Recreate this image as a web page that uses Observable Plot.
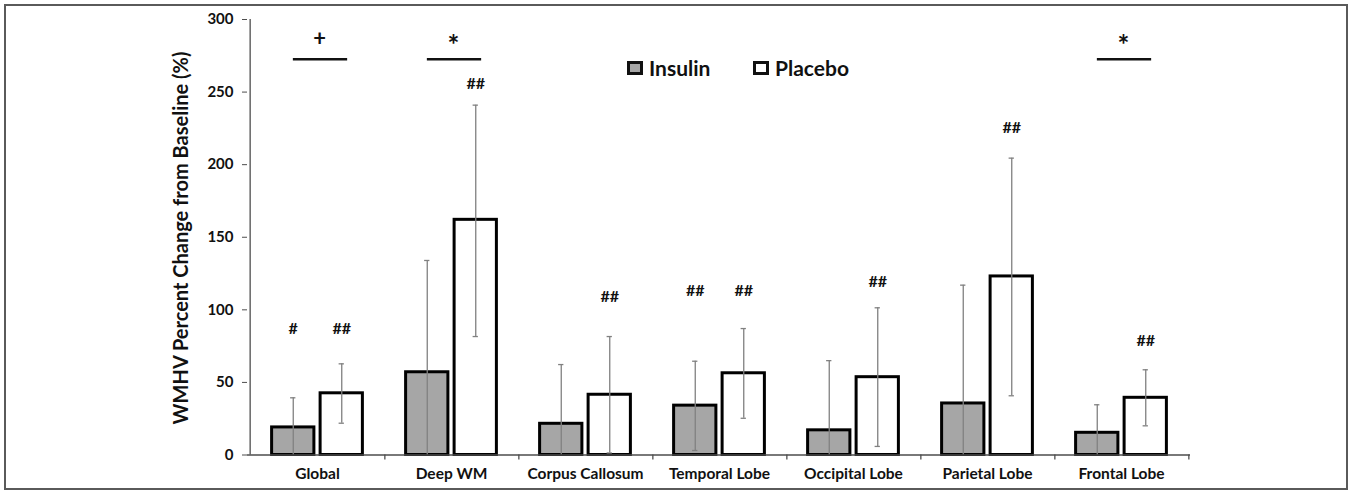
<!DOCTYPE html>
<html><head><meta charset="utf-8">
<script src="https://cdn.jsdelivr.net/npm/d3@7"></script>
<script src="https://cdn.jsdelivr.net/npm/@observablehq/plot@0.6"></script>
<style>
body{margin:0;background:#fff;}
#wrap{position:relative;width:1351px;height:491px;overflow:hidden;}
#frame{position:absolute;left:4px;top:4px;width:1344px;height:486px;border:2px solid #5a5a5a;box-sizing:border-box;pointer-events:none;}
.lg{position:absolute;font:bold 21px Lato,sans-serif;line-height:20px;color:#111;}
.sw{position:absolute;width:16px;height:14px;border:3px solid #111;box-sizing:border-box;}
#ytitle{position:absolute;left:180px;top:238px;transform:translate(-50%,-50%) rotate(-90deg);white-space:nowrap;font:bold 20px Lato,sans-serif;color:#111;}
</style></head>
<body><div id="wrap"><div id="chart"></div>
<div id="ytitle"></div>
<div class="sw" id="sw1" style="left:627px;top:61px;background:#a6a6a6"></div>
<div class="lg" id="lg1" style="left:649px;top:58px"></div>
<div class="sw" id="sw2" style="left:753px;top:61px;background:#fff"></div>
<div class="lg" id="lg2" style="left:775px;top:58px"></div>
<div id="frame"></div></div>
<script>
const categories = ["Global","Deep WM","Corpus Callosum","Temporal Lobe","Occipital Lobe","Parietal Lobe","Frontal Lobe"];
const seriesNames = ["Insulin","Placebo"];
const insulin     = [19.0, 57.0, 21.5, 34.0, 17.0, 35.5, 15.3];
const insulinLow  = [0, 0, 0, 3.1, 0, 0, 0];
const insulinHigh = [39.4, 134.0, 62.3, 64.6, 65.0, 117.0, 34.6];
const placebo     = [42.5, 162.0, 41.5, 56.3, 53.6, 123.0, 39.4];
const placeboLow  = [21.9, 81.6, 1.4, 25.3, 5.9, 40.8, 20.1];
const placeboHigh = [62.8, 241.0, 81.6, 87.1, 101.4, 204.5, 58.7];
const insulinNote  = ["#", "", "", "##", "", "", ""];
const insulinNoteY = [87, null, null, 113.3, null, null, null];
const placeboNote  = ["##","##","##","##","##","##","##"];
const placeboNoteY = [87, 255.4, 109.2, 113.3, 119.5, 225.1, 78.7];
const sigCats    = ["Global","Deep WM","Frontal Lobe"];
const sigSymbols = ["+","*","*"];
const sigLineY   = 272.6;
const sigSymbolY = 286.5;
const yTicks = [0,50,100,150,200,250,300];
const yTitle = "WMHV Percent Change from Baseline (%)";

document.getElementById("ytitle").textContent = yTitle;
document.getElementById("lg1").textContent = seriesNames[0];
document.getElementById("lg2").textContent = seriesNames[1];

const W = 1351, H = 491, ML = 247, MR = 161, MT = 19, MB = 36.5;
const bw = (W - ML - MR) / categories.length;
const off = 24.25, half = 21.5;

const ins = categories.map((c,i)=>({cat:c, v:insulin[i], lo:insulinLow[i], hi:insulinHigh[i], note:insulinNote[i], ny:insulinNoteY[i]}));
const pla = categories.map((c,i)=>({cat:c, v:placebo[i], lo:placeboLow[i], hi:placeboHigh[i], note:placeboNote[i], ny:placeboNoteY[i]}));
const sig = sigCats.map((c,i)=>({cat:c, s:sigSymbols[i], ly:sigLineY, sy:sigSymbolY}));

function series(rows, dx, fill){
  return [
    Plot.barY(rows, {x:"cat", y:"v", fill, stroke:"#000", strokeWidth:3,
      insetLeft: bw/2 + dx - half, insetRight: bw/2 - dx - half}),
    Plot.ruleX(rows, {x:"cat", y1:"lo", y2:"hi", dx, stroke:"#808080", strokeWidth:1.3}),
    Plot.tickY(rows, {x:"cat", y:"hi", dx, insetLeft:bw/2-3, insetRight:bw/2-3, stroke:"#808080", strokeWidth:1.3}),
    Plot.tickY(rows.filter(d=>d.lo>0), {x:"cat", y:"lo", dx, insetLeft:bw/2-3, insetRight:bw/2-3, stroke:"#808080", strokeWidth:1.3}),
    Plot.text(rows.filter(d=>d.note), {x:"cat", y:"ny", text:"note", dx, fontSize:16, fontWeight:"bold", fill:"#111"})
  ];
}

const chart = Plot.plot({
  width: W, height: H,
  marginLeft: ML, marginRight: MR, marginTop: MT, marginBottom: MB,
  style: {fontFamily: "Lato, sans-serif", fontSize: "15px", fontWeight: "bold", color:"#111", background:"transparent"},
  x: {domain: categories, padding: 0, label: null},
  y: {domain: [0, 300], label: null},
  marks: [
    ...series(ins, -off, "#a6a6a6"),
    ...series(pla, off, "#ffffff"),
    Plot.ruleY([0], {stroke:"#4d4d4d", strokeWidth:1.3}),
    Plot.ruleX([categories[0]], {dx:-bw/2, y1:0, y2:300, stroke:"#4d4d4d", strokeWidth:1.3}),
    Plot.ruleX(categories, {dx:bw/2, y1:0, y2:0, insetBottom:-5, stroke:"#4d4d4d", strokeWidth:1.3}),
    Plot.axisY({ticks: yTicks, tickSize: 5, tickPadding: 9, label: null, stroke:"#4d4d4d", fontSize: 15}),
    Plot.axisX({tickSize: 0, tickPadding: 13, label: null, fontSize: 15.5}),
    Plot.tickY(sig, {x:"cat", y:"ly", insetLeft: bw/2 + 3 - 27.5, insetRight: bw/2 - 3 - 27.5, stroke:"#111", strokeWidth:2.6}),
    Plot.text(sig.filter(d=>d.s==="+"), {x:"cat", y:"sy", text:"s", dx:2, fontSize:22, fontWeight:"bold", fill:"#111"}),
    Plot.text(sig.filter(d=>d.s!=="+"), {x:"cat", y:"sy", text:"s", dx:2, dy:7, fontSize:28, fontWeight:"bold", fill:"#111"})
  ]
});
document.getElementById("chart").appendChild(chart);
</script></body></html>
